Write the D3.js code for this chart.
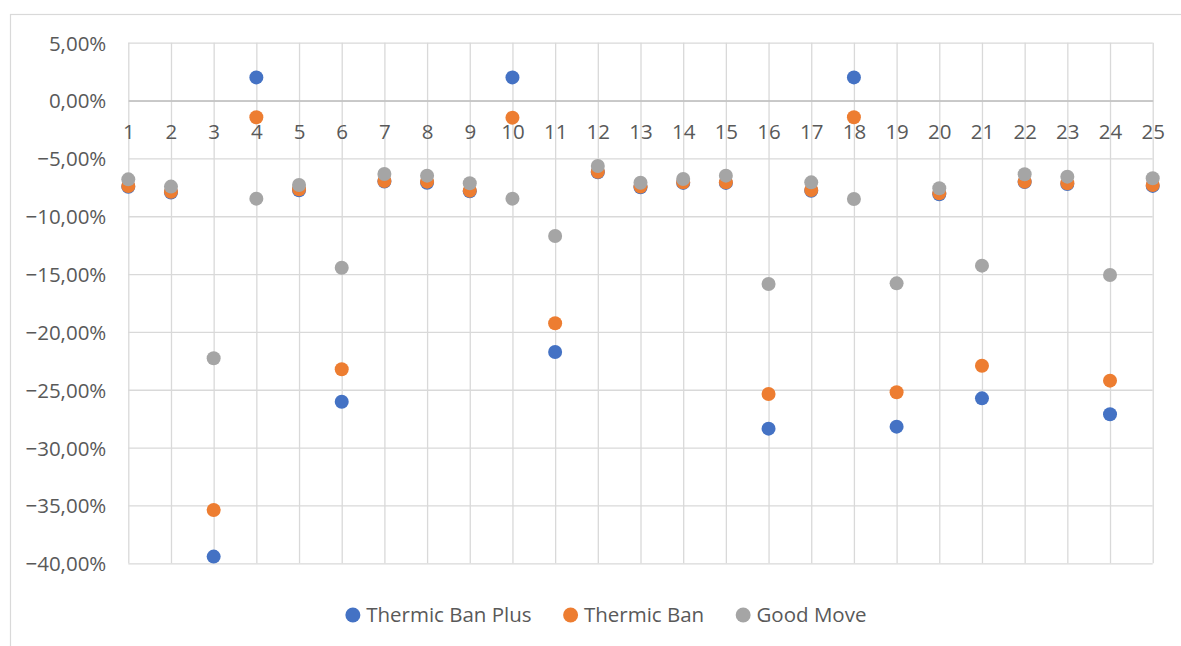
<!DOCTYPE html>
<html>
<head>
<meta charset="utf-8">
<script src="https://cdn.jsdelivr.net/npm/d3@7"></script>
<style>
  html, body { margin: 0; padding: 0; background: #ffffff; }
  svg { display: block; font-family: "Open Sans", "Noto Sans", sans-serif; }
</style>
</head>
<body>
<svg id="chart" width="1181" height="646"></svg>
<script>
// ---- data ----
const categories = ["1","2","3","4","5","6","7","8","9","10","11","12","13","14","15","16","17","18","19","20","21","22","23","24","25"];
const thermicBanPlus = [-7.45, -7.95, -39.42, 2.0, -7.75, -26.03, -7.0, -7.1, -7.85, 2.0, -21.73, -6.2, -7.5, -7.12, -7.12, -28.36, -7.8, 2.0, -28.19, -8.1, -25.74, -7.05, -7.22, -27.12, -7.38];
const thermicBan = [-7.39, -7.88, -35.39, -1.45, -7.67, -23.23, -6.95, -7.01, -7.79, -1.48, -19.25, -6.15, -7.44, -7.07, -7.07, -25.36, -7.73, -1.45, -25.22, -8.02, -22.92, -7.01, -7.15, -24.21, -7.30];
const goodMove = [-6.81, -7.44, -22.28, -8.48, -7.30, -14.45, -6.35, -6.49, -7.15, -8.48, -11.71, -5.66, -7.10, -6.78, -6.49, -15.86, -7.07, -8.51, -15.80, -7.58, -14.27, -6.37, -6.58, -15.08, -6.72];
const seriesNames = ["Thermic Ban Plus", "Thermic Ban", "Good Move"];
const seriesColors = ["#4472C4", "#ED7D31", "#A5A5A5"];
const yTicks = [5, 0, -5, -10, -15, -20, -25, -30, -35, -40];

const series = [
  { name: seriesNames[0], color: seriesColors[0], values: thermicBanPlus },
  { name: seriesNames[1], color: seriesColors[1], values: thermicBan },
  { name: seriesNames[2], color: seriesColors[2], values: goodMove }
];

// ---- layout ----
const svg = d3.select("#chart");
const plot = { left: 128.3, right: 1152.7, top: 42.7, bottom: 563.3 };
const textColor = "#595959";
const gridColor = "#d9d9d9";

const locale = d3.formatLocale({ decimal: ",", thousands: ".", grouping: [3], currency: ["", "€"] });
const fmt = locale.format(".2f");

const x = d3.scalePoint().domain(categories).range([plot.left, plot.right]).padding(0);
const y = d3.scaleLinear().domain([-40, 5]).range([plot.bottom, plot.top]);

// outer chart border
svg.append("rect")
  .attr("x", 10.5).attr("y", 14.5)
  .attr("width", 1400).attr("height", 800)
  .attr("fill", "none").attr("stroke", gridColor).attr("stroke-width", 1.2);

// horizontal gridlines via axis
const yGrid = svg.append("g")
  .attr("transform", `translate(${plot.left},0)`)
  .call(d3.axisLeft(y).tickValues(yTicks).tickSize(-(plot.right - plot.left)).tickFormat(""));
yGrid.select(".domain").remove();
yGrid.selectAll("line").attr("stroke", gridColor).attr("stroke-width", 1.3);

// vertical gridlines via axis
const xGrid = svg.append("g")
  .attr("transform", `translate(0,${plot.bottom})`)
  .call(d3.axisBottom(x).tickSize(-(plot.bottom - plot.top)).tickFormat(""));
xGrid.select(".domain").remove();
xGrid.selectAll("line").attr("stroke", gridColor).attr("stroke-width", 1.3);

// y axis labels
const yAxis = svg.append("g")
  .attr("transform", `translate(${plot.left},0)`)
  .call(d3.axisLeft(y).tickValues(yTicks).tickSize(0).tickPadding(22).tickFormat(d => fmt(d) + "%"));
yAxis.select(".domain").remove();
yAxis.selectAll("text")
  .attr("fill", textColor)
  .attr("font-size", "20.5px")
  .attr("font-family", "'Open Sans', sans-serif")
  .attr("dy", "0.36em");

// category axis at zero
const xAxis = svg.append("g")
  .attr("transform", `translate(0,${y(0)})`)
  .call(d3.axisBottom(x).tickSize(0).tickPadding(24));
xAxis.select(".domain").attr("stroke", "#bfbfbf").attr("stroke-width", 1.5);
xAxis.selectAll("text")
  .attr("fill", textColor)
  .attr("font-size", "20.5px")
  .attr("font-family", "'Open Sans', sans-serif")
  .attr("dy", "0.71em");

// markers
const markers = svg.append("g");
series.forEach(s => {
  markers.append("g")
    .selectAll("circle")
    .data(s.values)
    .join("circle")
    .attr("cx", (d, i) => x(categories[i]))
    .attr("cy", d => y(d))
    .attr("r", 7)
    .attr("fill", s.color);
});

// legend
const legend = svg.append("g");
const items = legend.selectAll("g").data(series).join("g");
const legR = 7.5, legTextOff = 13.3, legGap = 39;
items.append("circle").attr("r", legR).attr("cy", 0).attr("cx", 0).attr("fill", d => d.color);
items.append("text")
  .attr("x", legTextOff).attr("y", 0).attr("dy", "0.36em")
  .attr("font-size", "20.5px")
  .attr("fill", textColor)
  .text(d => d.name);
let cx = 0;
items.each(function() {
  const g = d3.select(this);
  const w = g.select("text").node().getComputedTextLength();
  g.attr("transform", `translate(${cx},0)`);
  cx += legTextOff + w + legGap;
});
const totalW = cx - legGap + legR;
const legendCenter = 605.9;
legend.attr("transform", `translate(${legendCenter - totalW / 2 + legR},615)`);
</script>
</body>
</html>
